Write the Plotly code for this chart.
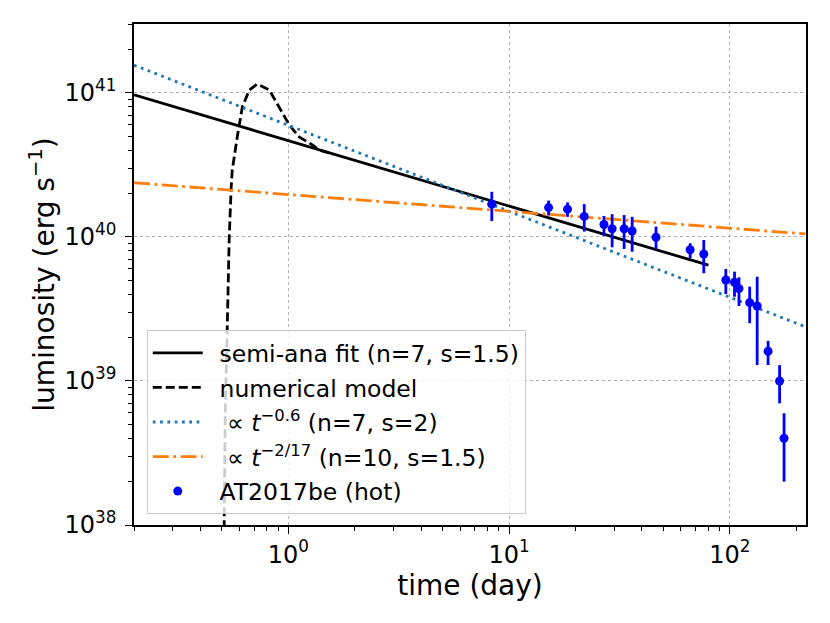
import plotly.graph_objects as go

# semi-analytic fit (power law, straight in log-log)
fit_t = [0.2, 80]
fit_L = [9.7e40, 6.37e39]

# numerical model light curve
num_t = [0.510, 0.513, 0.518, 0.529, 0.540, 0.551, 0.557, 0.587, 0.619, 0.666,
         0.723, 0.820, 0.910, 1.01, 1.12, 1.285, 1.38, 1.6]
num_L = [5e37, 1.0e38, 6.0e38, 2.37e39, 1.0e40, 2.19e40, 2.9e40, 4.95e40, 8.0e40, 1.05e41,
         1.155e41, 1.05e41, 8.0e40, 6.0e40, 4.95e40, 4.36e40, 4.02e40, 3.75e40]

# t^-0.6 (n=7, s=2)
pl1_t = [0.2, 220]
pl1_L = [1.56e41, 2.38e39]

# t^-2/17 (n=10, s=1.5)
pl2_t = [0.2, 220]
pl2_L = [2.38e40, 1.05e40]

# AT2017be (hot)
obs_t = [8.35, 15.1, 18.4, 21.9, 26.9, 29.3, 33.2, 36.1, 46.3, 66.1,
         76.2, 95.9, 105, 110, 123, 133, 149, 168, 176]
obs_L = [1.69e40, 1.60e40, 1.56e40, 1.39e40, 1.22e40, 1.14e40, 1.14e40, 1.10e40, 9.95e39, 8.16e39,
         7.62e39, 5.03e39, 4.85e39, 4.38e39, 3.50e39, 3.32e39, 1.61e39, 1.00e39, 4.0e38]
obs_hi = [2.06e40, 1.79e40, 1.74e40, 1.69e40, 1.40e40, 1.44e40, 1.42e40, 1.38e40, 1.18e40, 9.04e39,
          9.53e39, 6.0e39, 5.74e39, 5.25e39, 4.52e39, 5.30e39, 1.90e39, 1.29e39, 5.97e38]
obs_lo = [1.29e40, 1.41e40, 1.38e40, 1.09e40, 1.02e40, 8.48e39, 8.26e39, 7.9e39, 8.26e39, 7.11e39,
          5.60e39, 4.02e39, 3.85e39, 3.32e39, 2.52e39, 1.29e39, 1.29e39, 7.0e38, 2.0e38]

x_ticks = [1, 10, 100]
x_labels = ['10<sup>0</sup>', '10<sup>1</sup>', '10<sup>2</sup>']
y_ticks = [1e38, 1e39, 1e40, 1e41]
y_labels = ['10<sup>38</sup>', '10<sup>39</sup>', '10<sup>40</sup>', '10<sup>41</sup>']

# minor tick positions (2..9 of each decade)
x_minor = [m * 10.0 ** e for e in (-1, 0, 1, 2) for m in range(2, 10)]
y_minor = [m * 10.0 ** e for e in (38, 39, 40, 41) for m in range(2, 10)]

err_plus = [h - v for h, v in zip(obs_hi, obs_L)]
err_minus = [v - l for v, l in zip(obs_L, obs_lo)]

pad = '\u2002'  # small gap between legend sample and text

fig = go.Figure()
fig.add_trace(go.Scatter(x=fit_t, y=fit_L, mode='lines', name=pad + 'semi-ana fit (n=7, s=1.5)',
                         legendgroup='a', line=dict(color='black', width=2.8)))
fig.add_trace(go.Scatter(x=num_t, y=num_L, mode='lines', name=pad + 'numerical model',
                         legendgroup='b', line=dict(color='black', width=2.8, dash='9px,4px')))
fig.add_trace(go.Scatter(x=pl1_t, y=pl1_L, mode='lines',
                         name=pad + ' \u221d <i>t</i><sup>\u22120.6</sup> (n=7, s=2)',
                         legendgroup='c', line=dict(color='#1f77b4', width=2.8, dash='2.8px,4.5px')))
fig.add_trace(go.Scatter(x=pl2_t, y=pl2_L, mode='lines',
                         name=pad + ' \u221d <i>t</i><sup>\u22122/17</sup> (n=10, s=1.5)',
                         legendgroup='d', line=dict(color='#ff7f0e', width=2.8, dash='16px,4.5px,2.8px,4.5px')))
fig.add_trace(go.Scatter(x=obs_t, y=obs_L, mode='markers', name=pad + 'AT2017be (hot)',
                         legendgroup='e', marker=dict(color='#0000ff', size=9),
                         error_y=dict(type='data', symmetric=False, array=err_plus,
                                      arrayminus=err_minus, color='#0000ff', thickness=2.8, width=0)))

axis_common = dict(type='log', showline=True, linecolor='black', linewidth=1.5, mirror=True,
                   ticks='outside', ticklen=7, tickwidth=1.3, tickcolor='black',
                   showgrid=True, gridcolor='#b0b0b0', griddash='dot', gridwidth=1,
                   zeroline=False, tickfont=dict(size=24, color='black'))

fig.update_xaxes(**axis_common, range=[-0.699, 2.345], tickvals=x_ticks, ticktext=x_labels,
                 minor=dict(tickmode='array', tickvals=x_minor, ticks='outside', ticklen=4,
                            tickwidth=1, tickcolor='black', showgrid=False),
                 title=dict(text='time (day)', font=dict(size=28, color='black'), standoff=0))
fig.update_yaxes(**axis_common, range=[38, 41.479], tickvals=y_ticks, ticktext=y_labels,
                 ticklabelstandoff=4,
                 minor=dict(tickmode='array', tickvals=y_minor, ticks='outside', ticklen=4,
                            tickwidth=1, tickcolor='black', showgrid=False),
                 title=dict(text='luminosity (erg s<sup>\u22121</sup>)', font=dict(size=28, color='black'),
                            standoff=2))

fig.update_layout(
    width=830, height=623,
    margin=dict(l=126, r=32, t=16, b=106),
    plot_bgcolor='white', paper_bgcolor='white',
    font=dict(family='DejaVu Sans', color='black'),
    legend=dict(x=0.019, y=0.389, xanchor='left', yanchor='top',
                bgcolor='rgba(255,255,255,0.8)', bordercolor='#cccccc', borderwidth=1,
                font=dict(size=23.5, color='black'), tracegroupgap=1, itemwidth=50,
                traceorder='grouped'),
    showlegend=True,
)

fig.write_html("out.html")
